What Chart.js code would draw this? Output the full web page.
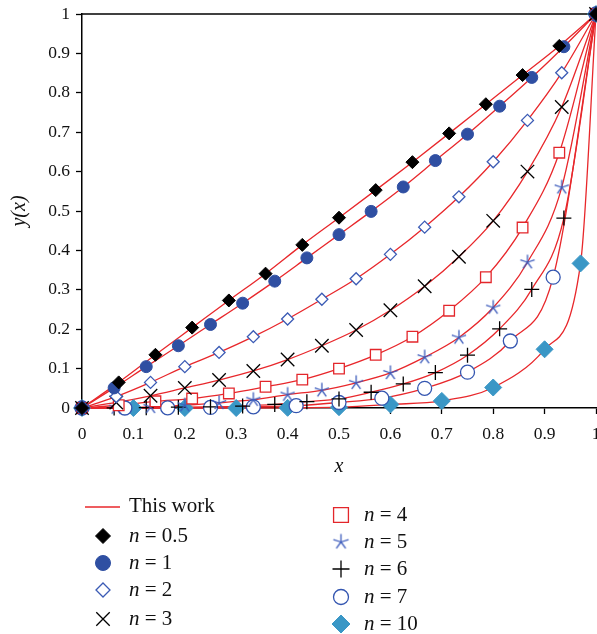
<!DOCTYPE html>
<html>
<head>
<meta charset="utf-8">
<script src="https://cdn.jsdelivr.net/npm/chart.js@4/dist/chart.umd.min.js"></script>
<style>
  html, body { margin: 0; padding: 0; background: #fff; }
</style>
</head>
<body>
<canvas id="chart" width="597" height="634"></canvas>
<script>
// values
const xN05 = [0, 1/14, 2/14, 3/14, 4/14, 5/14, 6/14, 7/14, 8/14, 9/14, 10/14, 11/14, 12/14, 13/14, 1];
const yN05 = [0, 0.065, 0.135, 0.204, 0.273, 0.341, 0.414, 0.483, 0.553, 0.624, 0.697, 0.771, 0.845, 0.919, 1];

const xN1 = [0, 1/16, 2/16, 3/16, 4/16, 5/16, 6/16, 7/16, 8/16, 9/16, 10/16, 11/16, 12/16, 13/16, 14/16, 15/16, 1];
const yN1 = [0, 0.051, 0.105, 0.158, 0.212, 0.266, 0.322, 0.381, 0.440, 0.499, 0.561, 0.628, 0.695, 0.766, 0.839, 0.917, 1];

const xN2 = [0, 1/15, 2/15, 3/15, 4/15, 5/15, 6/15, 7/15, 8/15, 9/15, 10/15, 11/15, 12/15, 13/15, 14/15, 1];
const yN2 = [0, 0.029, 0.065, 0.105, 0.141, 0.181, 0.226, 0.276, 0.328, 0.390, 0.459, 0.536, 0.625, 0.730, 0.851, 1];

const xN3 = [0, 1/15, 2/15, 3/15, 4/15, 5/15, 6/15, 7/15, 8/15, 9/15, 10/15, 11/15, 12/15, 13/15, 14/15, 1];
const yN3 = [0, 0.014, 0.031, 0.051, 0.071, 0.094, 0.123, 0.158, 0.198, 0.248, 0.309, 0.384, 0.475, 0.600, 0.764, 1];

const xN4 = [0, 1/14, 2/14, 3/14, 4/14, 5/14, 6/14, 7/14, 8/14, 9/14, 10/14, 11/14, 12/14, 13/14, 1];
const yN4 = [0, 0.007, 0.017, 0.024, 0.037, 0.054, 0.072, 0.100, 0.135, 0.181, 0.247, 0.332, 0.458, 0.648, 1];

const xN5 = [0, 1/15, 2/15, 3/15, 4/15, 5/15, 6/15, 7/15, 8/15, 9/15, 10/15, 11/15, 12/15, 13/15, 14/15, 1];
const yN5 = [0, 0.001, 0.003, 0.007, 0.013, 0.021, 0.034, 0.045, 0.064, 0.089, 0.129, 0.179, 0.255, 0.370, 0.560, 1];

const xN6 = [0, 1/16, 2/16, 3/16, 4/16, 5/16, 6/16, 7/16, 8/16, 9/16, 10/16, 11/16, 12/16, 13/16, 14/16, 15/16, 1];
const yN6 = [0, 0.0002, 0.0008, 0.002, 0.003, 0.005, 0.009, 0.016, 0.023, 0.040, 0.061, 0.090, 0.134, 0.201, 0.301, 0.482, 1];

const xN7 = [0, 1/12, 2/12, 3/12, 4/12, 5/12, 6/12, 7/12, 8/12, 9/12, 10/12, 11/12, 1];
const yN7 = [0, 0, 0.0003, 0.0015, 0.003, 0.006, 0.014, 0.025, 0.050, 0.091, 0.170, 0.332, 1];

const xN10 = [0, 0.1, 0.2, 0.3, 0.4, 0.5, 0.6, 0.7, 0.8, 0.9, 0.97, 1];
const yN10 = [0, 0, 0, 0, 0.0005, 0.002, 0.009, 0.018, 0.052, 0.149, 0.367, 1];

const seriesLabels = ["0.5", "1", "2", "3", "4", "5", "6", "7", "10"];
const tickValues = [0, 0.1, 0.2, 0.3, 0.4, 0.5, 0.6, 0.7, 0.8, 0.9, 1];

const RED = "#e8272b";
const BLUE = "#2f4fa2";
const TEAL = "#3a97c6";
const SERIF = "'Liberation Serif', 'DejaVu Serif', serif";

// 5-arm asterisk used for n = 5
function makeStar(color, r) {
  const c = document.createElement("canvas");
  const s = Math.ceil(2 * r + 3);
  c.width = s; c.height = s;
  const g = c.getContext("2d");
  g.strokeStyle = color;
  g.lineWidth = 1.3;
  g.beginPath();
  for (let i = 0; i < 5; i++) {
    const a = -Math.PI / 2 + i * 2 * Math.PI / 5;
    g.moveTo(s / 2, s / 2);
    g.lineTo(s / 2 + r * Math.cos(a), s / 2 + r * Math.sin(a));
  }
  g.stroke();
  return c;
}
const starImg = makeStar("#3d5cbc", 7.5);
const starImgBig = makeStar("#3d5cbc", 8);

const markerStyles = [
  { pointStyle: "rectRot", radius: 6.5, backgroundColor: "#000", borderColor: "#000", borderWidth: 1 },
  { pointStyle: "circle", radius: 6, backgroundColor: BLUE, borderColor: BLUE, borderWidth: 1 },
  { pointStyle: "rectRot", radius: 6, backgroundColor: "#fff", borderColor: "#3b5bb5", borderWidth: 1.3 },
  { pointStyle: "crossRot", radius: 9.5, backgroundColor: "#000", borderColor: "#000", borderWidth: 1.3 },
  { pointStyle: "rect", radius: 7.5, backgroundColor: "#fff", borderColor: "#e3262b", borderWidth: 1.3 },
  { pointStyle: starImg, radius: 7, backgroundColor: "#3d5cbc", borderColor: "#3d5cbc", borderWidth: 1.3 },
  { pointStyle: "cross", radius: 7.5, backgroundColor: "#000", borderColor: "#000", borderWidth: 1.3 },
  { pointStyle: "circle", radius: 7, backgroundColor: "#fff", borderColor: "#3355b0", borderWidth: 1.3 },
  { pointStyle: "rectRot", radius: 8.5, backgroundColor: TEAL, borderColor: TEAL, borderWidth: 1 },
];
// legend keys are drawn a little larger than the plotted marks
const legendRadius = [7.5, 7.5, 7, 9.5, 10.5, 8, 8.5, 7.5, 9];

const seriesX = [xN05, xN1, xN2, xN3, xN4, xN5, xN6, xN7, xN10];
const seriesY = [yN05, yN1, yN2, yN3, yN4, yN5, yN6, yN7, yN10];
const toXY = (xs, ys) => xs.map((x, i) => ({ x: x, y: ys[i] }));

const datasets = [];
seriesX.forEach((xs, i) => {
  datasets.push({
    label: "This work",
    data: toXY(xs, seriesY[i]),
    borderColor: RED,
    borderWidth: 1.3,
    pointRadius: 0,
    fill: false,
    cubicInterpolationMode: "monotone",
    clip: false,
    order: 2,
  });
});
seriesX.forEach((xs, i) => {
  const m = markerStyles[i];
  datasets.push({
    label: "n = " + seriesLabels[i],
    data: toXY(xs, seriesY[i]),
    showLine: false,
    pointStyle: m.pointStyle,
    pointRadius: m.radius,
    pointBackgroundColor: m.backgroundColor,
    pointBorderColor: m.borderColor,
    pointBorderWidth: m.borderWidth,
    clip: false,
    order: 1,
  });
});

// top frame line
const frameTop = {
  id: "frameTop",
  beforeDatasetsDraw(chart) {
    const { ctx, chartArea } = chart;
    ctx.save();
    ctx.strokeStyle = "#000";
    ctx.lineWidth = 1.5;
    ctx.beginPath();
    ctx.moveTo(chartArea.left, chartArea.top);
    ctx.lineTo(chartArea.right + 1, chartArea.top);
    ctx.stroke();
    ctx.restore();
  },
};

// two-column legend under the plot
const customLegend = {
  id: "customLegend",
  afterDraw(chart) {
    const ctx = chart.ctx;
    ctx.save();
    ctx.textBaseline = "middle";
    ctx.fillStyle = "#111";

    ctx.strokeStyle = RED;
    ctx.lineWidth = 1.3;
    ctx.beginPath();
    ctx.moveTo(85, 507);
    ctx.lineTo(120, 507);
    ctx.stroke();
    ctx.font = "21px " + SERIF;
    ctx.fillText("This work", 129, 506);

    const rows = [
      [103, 536, 129], [103, 563, 129], [103, 590, 129], [103, 619, 129],
      [341, 515, 364], [341, 542, 364], [341, 569, 364], [341, 597, 364], [341, 624, 364],
    ];
    rows.forEach((r, i) => {
      const m = markerStyles[i];
      const style = i === 5 ? starImgBig : m.pointStyle;
      ctx.fillStyle = m.backgroundColor;
      ctx.strokeStyle = m.borderColor;
      ctx.lineWidth = m.borderWidth;
      Chart.helpers.drawPoint(ctx, { pointStyle: style, radius: legendRadius[i], rotation: 0, borderWidth: m.borderWidth }, r[0], r[1]);
      ctx.fillStyle = "#111";
      ctx.font = "italic 21px " + SERIF;
      ctx.fillText("n", r[2], r[1]);
      const w = ctx.measureText("n").width;
      ctx.font = "21px " + SERIF;
      ctx.fillText(" = " + seriesLabels[i], r[2] + w, r[1]);
    });
    ctx.restore();
  },
};

const fmt = v => String(Number(v.toFixed(1)));

new Chart(document.getElementById("chart"), {
  type: "line",
  data: { datasets: datasets },
  options: {
    responsive: false,
    animation: false,
    layout: { autoPadding: false, padding: { top: 14, right: 1, bottom: 144, left: 0 } },
    plugins: { legend: { display: false }, tooltip: { enabled: false } },
    scales: {
      x: {
        type: "linear",
        min: 0,
        max: 1,
        afterFit: s => { s.height = 82; s.paddingLeft = 0; s.paddingRight = 0; },
        afterBuildTicks: s => { s.ticks = tickValues.map(v => ({ value: v })); },
        ticks: { callback: fmt, padding: 10, color: "#111", font: { family: SERIF, size: 17.5 }, maxRotation: 0, autoSkip: false },
        grid: { drawOnChartArea: false, tickLength: 6, tickColor: "#000", tickWidth: 1.3 },
        border: { color: "#000", width: 1.5 },
        title: { display: true, text: "x", color: "#111", font: { family: SERIF, size: 20, style: "italic" }, padding: { top: 0, bottom: 11 } },
      },
      y: {
        type: "linear",
        min: 0,
        max: 1,
        afterFit: s => { s.width = 82; s.paddingTop = 0; s.paddingBottom = 0; },
        afterBuildTicks: s => { s.ticks = tickValues.map(v => ({ value: v })); },
        ticks: { callback: fmt, padding: 6, color: "#111", font: { family: SERIF, size: 17.5 }, autoSkip: false },
        grid: { drawOnChartArea: false, tickLength: 6, tickColor: "#000", tickWidth: 1.3 },
        border: { color: "#000", width: 1.5 },
        title: { display: true, text: "y(x)", color: "#111", font: { family: SERIF, size: 20, style: "italic" }, padding: { top: 8, bottom: 0 } },
      },
    },
  },
  plugins: [frameTop, customLegend],
});
</script>
</body>
</html>
